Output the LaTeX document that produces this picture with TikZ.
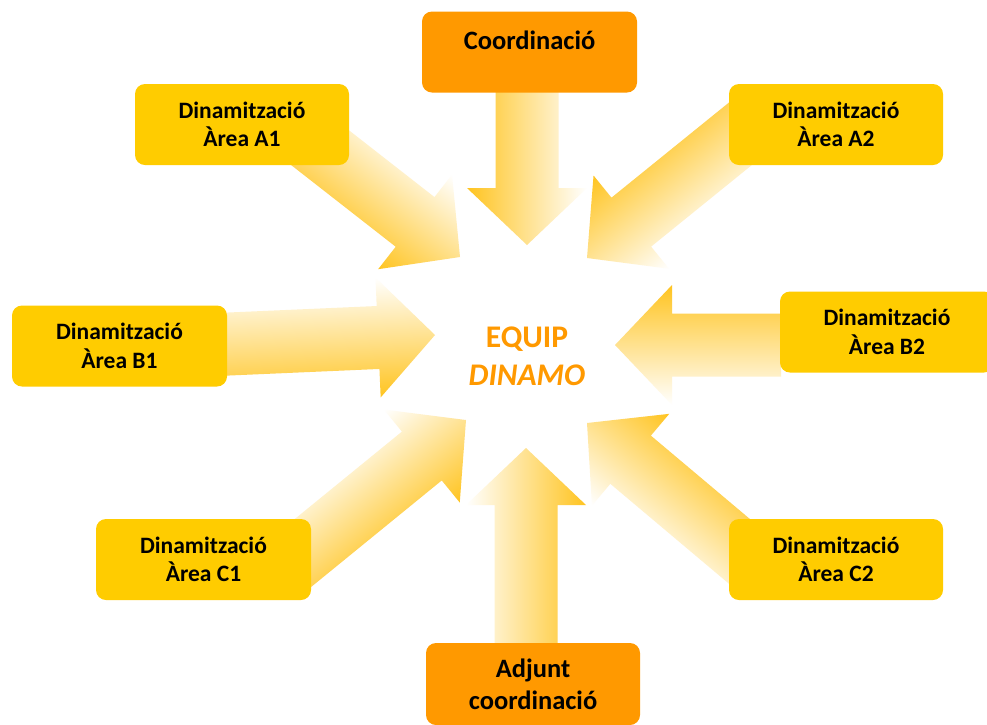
\documentclass[tikz,border=0pt]{standalone}
\usepackage{fontspec}
\setmainfont{Carlito}
\definecolor{boxY}{RGB}{255,204,0}
\definecolor{boxO}{RGB}{255,153,0}
\definecolor{arrowY}{RGB}{255,196,32}
\definecolor{titleO}{RGB}{255,153,0}
\newcommand{\boxfont}{\fontsize{23.5}{28.5}\selectfont\bfseries}
\newcommand{\orfont}{\fontsize{26.5}{32}\selectfont\bfseries}
\newcommand{\titlefont}{\fontsize{31.5}{38}\selectfont\bfseries}
\newcommand{\dinarrow}[3]{%
  \begin{scope}[transform canvas={shift={(#1)},rotate=#2}]
    \shade[arrowfill] (0pt,0pt) -- (-57pt,60pt) -- (-57pt,31.5pt) -- (-#3pt,31.5pt)
      -- (-#3pt,-31.5pt) -- (-57pt,-31.5pt) -- (-57pt,-60pt) -- cycle;
  \end{scope}}
\begin{document}
\begin{tikzpicture}[x=1pt,y=-1pt,
  arrowfill/.style={top color=white, bottom color=arrowY, draw=none},
  dinbox/.style={rounded corners=10pt, minimum width=214pt, minimum height=81pt,
    align=center, font=\boxfont, text=black, inner sep=0pt, fill=boxY},
  orbox/.style={dinbox, fill=boxO, font=\orfont},
  title/.style={align=center, font=\titlefont, text=titleO, inner sep=0pt}]
\useasboundingbox (0,0) rectangle (987,724);
\fill[white] (0,0) rectangle (987,724);
% arrow tips
\coordinate (tipC) at (527,245);
\coordinate (tipJ) at (526,448);
\coordinate (tipA1) at (460,257);
\coordinate (tipA2) at (587,258);
\coordinate (tipB1) at (435,335);
\coordinate (tipB2) at (615,345);
\coordinate (tipC1) at (466,420);
\coordinate (tipC2) at (587,423);
% arrows
\dinarrow{tipC}{-90}{193}
\dinarrow{tipJ}{90}{240}
\dinarrow{tipA1}{-38}{220}
\dinarrow{tipA2}{219}{223}
\dinarrow{tipB1}{2.5}{260}
\dinarrow{tipB2}{180}{166}
\dinarrow{tipC1}{39.2}{236}
\dinarrow{tipC2}{139.9}{224}
% boxes
\node[orbox, minimum width=215pt] (coord) at (529.5,52) {Coordinació\\[-7.5pt]\mbox{}};
\node[dinbox] (A1) at (242,124.5) {Dinamització\\Àrea A1};
\node[dinbox] (A2) at (836,124.5) {Dinamització\\Àrea A2};
\node[dinbox, minimum width=215pt] (B1) at (119.5,346) {Dinamització\\Àrea B1};
\node[dinbox] (B2) at (887,332) {Dinamització\\Àrea B2};
\node[dinbox, minimum width=215pt] (C1) at (203.5,559.5) {Dinamització\\Àrea C1};
\node[dinbox] (C2) at (836,559.5) {Dinamització\\Àrea C2};
\node[orbox, minimum height=82pt] (adj) at (533,684) {Adjunt\\coordinació};
% centre
\node[title] (equip) at (527,356) {EQUIP\\\textit{DINAMO}};
\end{tikzpicture}
\end{document}
